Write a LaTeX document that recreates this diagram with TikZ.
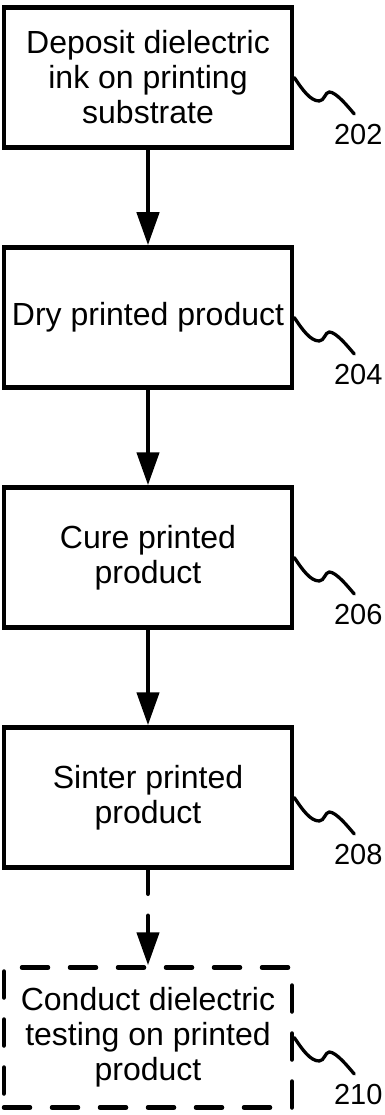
\documentclass[tikz,border=0pt]{standalone}
\usepackage{fontspec}
\setmainfont{Liberation Sans}
\usetikzlibrary{arrows.meta}
\begin{document}
\begin{tikzpicture}[x=1pt,y=-1pt,
    stepbox/.style={shape=rectangle,draw=black,line width=4.5pt,minimum width=288pt,minimum height=140pt,inner sep=0pt,align=center,font=\fontsize{32}{35}\selectfont},
    optbox/.style={stepbox,line cap=round,dash pattern=on 26pt off 22pt},
    flow/.style={line width=4.5pt,-{Triangle[length=33pt,width=22pt]}},
    squig/.style={line width=3.3pt,line cap=round},
    reflabel/.style={font=\fontsize{29}{29}\selectfont,inner sep=0pt}]
  \useasboundingbox (0,0) rectangle (384,1115);
  \draw
    (148,77.5) node[stepbox] (deposit){Deposit dielectric\\ink on printing\\substrate}
    (148,317.5) node[stepbox] (dry){Dry printed product}
    (148,557.5) node[stepbox] (cure){Cure printed\\product}
    (148,797.5) node[stepbox] (sinter){Sinter printed\\product}
    (148,1037.5) node[optbox] (test){Conduct dielectric\\testing on printed\\product};
  \begin{scope}
    \draw[flow] (deposit) -- (dry);
    \draw[flow] (dry) -- (cure);
    \draw[flow] (cure) -- (sinter);
    \draw[flow,line cap=round,dash pattern=on 24pt off 22pt] (sinter) -- (test);
  \end{scope}
  % reference numerals
  \foreach \n/\r in {deposit/202,dry/204,cure/206,sinter/208,test/210}{
    \draw[squig] (\n.east) .. controls +(8,12) and +(-9,0) .. ++(25,23.5)
      .. controls +(5,0) and +(-4,0) .. ++(10,-9)
      .. controls +(7,0) and +(-6,-7) .. ++(25,22);
    \path (\n.east) ++(64,57.5) node[reflabel] (r\r) {\r};
  }
\end{tikzpicture}
\end{document}
